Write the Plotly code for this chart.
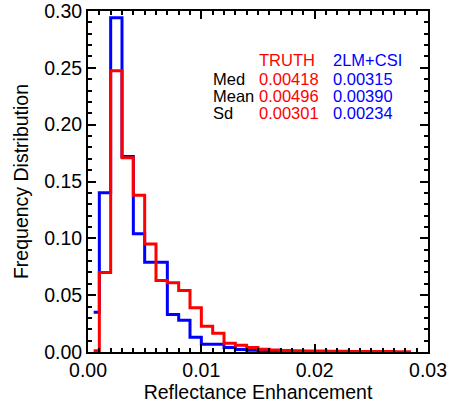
import plotly.graph_objects as go

# Bin centres (bin width 0.001)
truth_x = [0.0005 + 0.001 * k for k in range(29)]
truth_y = [0.001, 0.070, 0.2475, 0.171, 0.138, 0.095, 0.063, 0.061, 0.054, 0.039,
           0.0226, 0.0165, 0.0077, 0.0060, 0.0040, 0.0024, 0.0018, 0.0014, 0.0011, 0.0009,
           0.0008, 0.0007, 0.0006, 0.0005, 0.0005, 0.0004, 0.0004, 0.0003, 0.0003]

csi_x = [0.0005 + 0.001 * k for k in range(21)]
csi_y = [0.035, 0.140, 0.294, 0.172, 0.104, 0.079, 0.079, 0.033, 0.028, 0.013,
         0.0068, 0.0068, 0.0040, 0.0023, 0.0015, 0.0013, 0.0008, 0.0006, 0.0004, 0.0003,
         0.0002]

col_names = ["TRUTH", "2LM+CSI"]
row_names = ["Med", "Mean", "Sd"]
truth_stats = ["0.00418", "0.00496", "0.00301"]
csi_stats = ["0.00315", "0.00390", "0.00234"]

x_ticks = [0.00, 0.01, 0.02, 0.03]
y_ticks = [0.00, 0.05, 0.10, 0.15, 0.20, 0.25, 0.30]

FONT = "Liberation Sans, Arial, Helvetica, sans-serif"
RED = "#ff0000"
BLUE = "#0000ff"

fig = go.Figure()
fig.add_trace(go.Scatter(x=csi_x, y=csi_y, mode="lines", line=dict(color=BLUE, width=3, shape="hvh"),
                         showlegend=False, name="2LM+CSI"))
fig.add_trace(go.Scatter(x=truth_x, y=truth_y, mode="lines", line=dict(color=RED, width=3, shape="hvh"),
                         showlegend=False, name="TRUTH"))

# Stats table as annotations
xc_lab, xc_red, xc_blue = 0.01095, 0.01500, 0.02155
y_head = 0.2566
y_rows = [0.2398, 0.2252, 0.2107]
ann = []
ann.append(dict(x=xc_red, y=y_head, text=col_names[0], font=dict(color=RED)))
ann.append(dict(x=xc_blue, y=y_head, text=col_names[1], font=dict(color=BLUE)))
for i, r in enumerate(row_names):
    ann.append(dict(x=xc_lab, y=y_rows[i], text=r, font=dict(color="black")))
    ann.append(dict(x=xc_red, y=y_rows[i], text=truth_stats[i], font=dict(color=RED)))
    ann.append(dict(x=xc_blue, y=y_rows[i], text=csi_stats[i], font=dict(color=BLUE)))
for a in ann:
    a.update(xref="x", yref="y", xanchor="left", yanchor="middle", showarrow=False,
             borderpad=0, height=16)
    a["font"].update(family=FONT, size=16.5)
fig.update_layout(annotations=ann)

axis_common = dict(
    showgrid=False, zeroline=False, showline=True, linecolor="black", linewidth=2,
    mirror="allticks", ticks="inside", ticklen=8, tickwidth=1.5, tickcolor="black",
    tickfont=dict(family=FONT, size=19.5, color="black"), automargin=False,
    ticklabeloverflow="allow",
)
fig.update_xaxes(range=[0, 0.03], tickvals=x_ticks, ticktext=[f"{v:.2f}" for v in x_ticks],
                 minor=dict(ticks="inside", dtick=0.001, ticklen=4, tickwidth=1.5, tickcolor="black"),
                 title=dict(text="Reflectance Enhancement", font=dict(family=FONT, size=19.5, color="black"),
                            standoff=0),
                 **axis_common)
fig.update_yaxes(range=[0, 0.30], tickvals=y_ticks, ticktext=[f"{v:.2f}" for v in y_ticks],
                 minor=dict(ticks="inside", dtick=0.01, ticklen=4, tickwidth=1.5, tickcolor="black"),
                 title=dict(text="Frequency Distribution", font=dict(family=FONT, size=19.5, color="black"),
                            standoff=10),
                 **axis_common)

fig.update_layout(width=452, height=409, margin=dict(l=88, r=24, t=11, b=57, autoexpand=False),
                  plot_bgcolor="white", paper_bgcolor="white")

fig.write_html("out.html", config={"displayModeBar": False},
               post_script="document.body.style.margin='0';document.body.style.overflow='hidden';")
